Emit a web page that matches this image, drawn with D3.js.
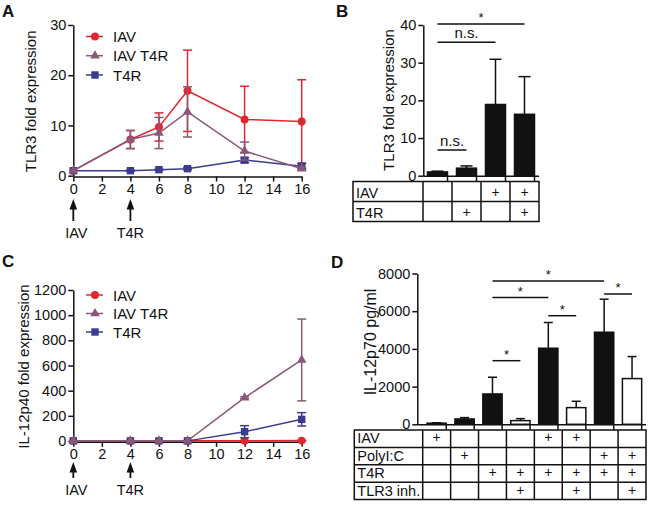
<!DOCTYPE html>
<html><head><meta charset="utf-8">
<script src="https://cdn.jsdelivr.net/npm/d3@7"></script>
<style>body{margin:0;background:#fff} text{font-family:"Liberation Sans",Arial,sans-serif;fill:#111}</style>
</head><body><svg id="c" width="650" height="508" xmlns="http://www.w3.org/2000/svg"></svg>
<script>
// ---------- data ----------
const hours = [0, 4, 6, 8, 12, 16];
const seriesNames = ["IAV", "IAV T4R", "T4R"];
const seriesColors = ["#e3262d", "#8a5878", "#3c3b8e"];
const lineXTicks = [0, 2, 4, 6, 8, 10, 12, 14, 16];

// Panel A: TLR3 fold expression (mean, SD)
const tlr3IAV = [1, 7.2, 9.7, 16.9, 11.2, 10.8];
const tlr3IAVsd = [0, 1.8, 2.8, 8.1, 6.6, 8.3];
const tlr3IAVT4R = [1, 7.2, 8.5, 12.7, 4.9, 1.4];
const tlr3IAVT4Rsd = [0, 1.8, 3.1, 5.0, 1.8, 0.3];
const tlr3T4R = [1, 1.0, 1.2, 1.4, 3.1, 1.9];
const tlr3T4Rsd = [0, 0.1, 0.1, 0.2, 0.5, 0.5];
const tlr3Ticks = [0, 10, 20, 30];

// Panel C: IL-12p40 fold expression (mean, SD)
const il12IAV = [1, 1, 1, 1, 2, 3];
const il12IAVsd = [0, 0, 0, 0, 1, 1];
const il12IAVT4R = [1, 1, 1, 1, 344, 644];
const il12IAVT4Rsd = [0, 0, 0, 0, 8, 325];
const il12T4R = [1, 1, 1, 1, 74, 172];
const il12T4Rsd = [0, 0, 0, 0, 48, 53];
const il12Ticks = [0, 200, 400, 600, 800, 1000, 1200];

// Panel B: TLR3 fold expression bars
const bValues = [1.0, 2.0, 18.9, 16.3];
const bErr = [0.2, 0.6, 12.0, 10.0];
const bRowLabels = ["IAV", "T4R"];
const bIAV = ["", "", "+", "+"];
const bT4R = ["", "+", "", "+"];
const bTicks = [0, 10, 20, 30, 40];

// Panel D: IL-12p70 pg/ml bars
const dValues = [60, 283, 1610, 195, 4036, 885, 4885, 2425];
const dErr = [20, 72, 886, 105, 1364, 336, 1752, 1168];
const dFilled = [true, true, true, false, true, false, true, false];
const dRowLabels = ["IAV", "PolyI:C", "T4R", "TLR3 inh."];
const dIAV = ["+", "", "", "", "+", "+", "", ""];
const dPolyIC = ["", "+", "", "", "", "", "+", "+"];
const dT4R = ["", "", "+", "+", "+", "+", "+", "+"];
const dTLR3 = ["", "", "", "+", "", "+", "", "+"];
const dTicks = [0, 2000, 4000, 6000, 8000];

// ---------- drawing ----------
const svg = d3.select("#c");
const SW = 1.5;
const fmt = d3.format("d");

function panelLetter(x, y, t) {
  svg.append("text").attr("x", x).attr("y", y).attr("font-size", 17).attr("font-weight", "bold").text(t);
}
function yTitle(cx, cy, t, fs) {
  svg.append("text").attr("transform", `translate(${cx},${cy}) rotate(-90)`)
    .attr("text-anchor", "middle").attr("dominant-baseline", "central")
    .attr("font-size", fs).text(t);
}
function styleAxis(g, fs) {
  g.selectAll("path.domain").attr("stroke", "#111").attr("stroke-width", SW);
  g.selectAll(".tick line").attr("stroke", "#111").attr("stroke-width", SW);
  g.selectAll(".tick text").attr("font-size", fs).attr("fill", "#111")
    .attr("font-family", '"Liberation Sans",Arial,sans-serif');
}

function linePanel(opt) {
  const x = d3.scaleLinear().domain([0, 16]).range([73.3, 301.7]);
  const y = d3.scaleLinear().domain(opt.yDomain).range(opt.yRange);
  const gy = svg.append("g").attr("transform", `translate(${x(0)},0)`)
    .call(d3.axisLeft(y).tickValues(opt.yTicks).tickFormat(fmt).tickSize(5).tickPadding(2).tickSizeOuter(0));
  styleAxis(gy, 14.5);
  const gx = svg.append("g").attr("transform", `translate(0,${y(0) + 0.8})`)
    .call(d3.axisBottom(x).tickValues(lineXTicks).tickFormat(fmt).tickSize(5).tickPadding(2).tickSizeOuter(0));
  styleAxis(gx, 14.5);
  yTitle(opt.titleX, (opt.yRange[0] + opt.yRange[1]) / 2 + 1, opt.title, 15);

  const symbols = [d3.symbolCircle, d3.symbolTriangle, d3.symbolSquare];
  const sizes = [50, 40, 55];
  const order = [0, 2, 1];
  order.forEach(si => {
    const vals = opt.means[si], sds = opt.sds[si], col = seriesColors[si];
    const g = svg.append("g");
    const pts = hours.map((h, i) => ({ h, v: vals[i], s: sds[i] }));
    g.append("path").datum(pts)
      .attr("d", d3.line().x(d => x(d.h)).y(d => y(d.v)))
      .attr("fill", "none").attr("stroke", col).attr("stroke-width", SW);
    pts.forEach(p => {
      if (p.s > 0) {
        const y1 = y(p.v + p.s), y0 = y(Math.max(opt.yDomain[0], p.v - p.s));
        g.append("line").attr("x1", x(p.h)).attr("x2", x(p.h)).attr("y1", y1).attr("y2", y0)
          .attr("stroke", col).attr("stroke-width", SW);
        [y1, y0].forEach(yy => g.append("line").attr("x1", x(p.h) - 4.5).attr("x2", x(p.h) + 4.5)
          .attr("y1", yy).attr("y2", yy).attr("stroke", col).attr("stroke-width", SW));
      }
      g.append("path").attr("d", d3.symbol(symbols[si], sizes[si])())
        .attr("transform", `translate(${x(p.h)},${y(p.v)})`).attr("fill", col);
    });
  });
  // legend
  seriesNames.forEach((n, i) => {
    const ly = opt.legendY[i];
    svg.append("line").attr("x1", 86).attr("x2", 103).attr("y1", ly).attr("y2", ly)
      .attr("stroke", seriesColors[i]).attr("stroke-width", SW);
    svg.append("path").attr("d", d3.symbol(symbols[i], sizes[i])())
      .attr("transform", `translate(95,${ly})`).attr("fill", seriesColors[i]);
    svg.append("text").attr("x", 113).attr("y", ly + 5.5).attr("font-size", 15).text(n);
  });
  // arrows
  [[0, "IAV"], [4, "T4R"]].forEach(([h, t]) => {
    const ax = x(h);
    svg.append("line").attr("x1", ax).attr("x2", ax).attr("y1", opt.arrowTop + 8).attr("y2", opt.arrowBottom)
      .attr("stroke", "#111").attr("stroke-width", 1.8);
    svg.append("path").attr("d", `M${ax},${opt.arrowTop} L${ax - 3.8},${opt.arrowTop + 10.5} L${ax + 3.8},${opt.arrowTop + 10.5} Z`)
      .attr("fill", "#111");
    svg.append("text").attr("x", ax + (h === 0 ? 3 : 0)).attr("y", opt.labelY).attr("text-anchor", "middle")
      .attr("font-size", 14.5).text(t);
  });
}

linePanel({
  yDomain: [0, 30], yRange: [175.7, 25], yTicks: tlr3Ticks, title: "TLR3 fold expression", titleX: 30,
  means: [tlr3IAV, tlr3IAVT4R, tlr3T4R], sds: [tlr3IAVsd, tlr3IAVT4Rsd, tlr3T4Rsd],
  legendY: [36.5, 55.7, 75], arrowTop: 199, arrowBottom: 221, labelY: 238
});
linePanel({
  yDomain: [0, 1200], yRange: [441, 290], yTicks: il12Ticks, title: "IL-12p40 fold expression", titleX: 23,
  means: [il12IAV, il12IAVT4R, il12T4R], sds: [il12IAVsd, il12IAVT4Rsd, il12T4Rsd],
  legendY: [295, 313.5, 332], arrowTop: 462, arrowBottom: 478, labelY: 495
});

function barPanel(opt) {
  const n = opt.values.length;
  const x = d3.scaleBand().domain(d3.range(n)).range(opt.xRange).paddingInner(0.31).paddingOuter(0.155);
  const y = d3.scaleLinear().domain(opt.yDomain).range(opt.yRange);
  const step = x.step();
  // bars
  opt.values.forEach((v, i) => {
    const cx = x(i) + x.bandwidth() / 2;
    const top = y(v + opt.err[i]);
    svg.append("line").attr("x1", cx).attr("x2", cx).attr("y1", top).attr("y2", y(v))
      .attr("stroke", "#111").attr("stroke-width", SW);
    svg.append("line").attr("x1", cx - opt.cap).attr("x2", cx + opt.cap).attr("y1", top).attr("y2", top)
      .attr("stroke", "#111").attr("stroke-width", SW);
    svg.append("rect").attr("x", x(i)).attr("width", x.bandwidth())
      .attr("y", y(v)).attr("height", Math.max(0.5, y(0) - y(v)))
      .attr("fill", opt.filled[i] ? "#111" : "#fff").attr("stroke", "#111").attr("stroke-width", SW);
  });
  const gy = svg.append("g").attr("transform", `translate(${opt.yAxisX},0)`)
    .call(d3.axisLeft(y).tickValues(opt.yTicks).tickFormat(fmt).tickSize(5).tickPadding(2).tickSizeOuter(0));
  styleAxis(gy, 14.5);
  const gx = svg.append("g").attr("transform", `translate(0,${y(0) + 0.5})`)
    .call(d3.axisBottom(x).tickSize(5).tickSizeOuter(0).tickFormat(""));
  styleAxis(gx, 14);
  gx.select("path.domain").attr("d", `M${opt.yAxisX},0H${opt.xRange[1]}`);
  gx.selectAll(".tick line").attr("transform", `translate(${x.bandwidth() / 2},0)`);
  yTitle(opt.titleX, opt.titleY, opt.title, opt.titleSize);

  // condition table
  const tb = svg.append("g");
  const rows = opt.rows;
  const rh = (opt.tableBottom - opt.tableTop) / rows.length;
  const colEdges = d3.range(n + 1).map(i => opt.xRange[0] + i * step);
  tb.append("rect").attr("x", opt.tableLeft).attr("y", opt.tableTop)
    .attr("width", opt.xRange[1] - opt.tableLeft).attr("height", opt.tableBottom - opt.tableTop)
    .attr("fill", "none").attr("stroke", "#111").attr("stroke-width", SW);
  for (let r = 1; r < rows.length; r++) {
    tb.append("line").attr("x1", opt.tableLeft).attr("x2", opt.xRange[1])
      .attr("y1", opt.tableTop + r * rh).attr("y2", opt.tableTop + r * rh).attr("stroke", "#111").attr("stroke-width", SW);
  }
  colEdges.slice(0, n).forEach(cx => tb.append("line").attr("x1", cx).attr("x2", cx)
    .attr("y1", opt.tableTop).attr("y2", opt.tableBottom).attr("stroke", "#111").attr("stroke-width", SW));
  rows.forEach((row, r) => {
    const by = opt.tableTop + (r + 1) * rh - 4;
    tb.append("text").attr("x", opt.tableLeft + 3).attr("y", by).attr("font-size", 14.5).text(opt.rowLabels[r]);
    row.forEach((s, i) => {
      if (s) tb.append("text").attr("x", x(i) + x.bandwidth() / 2).attr("y", by - 1).attr("text-anchor", "middle")
        .attr("font-size", 14).text(s);
    });
  });
  // significance brackets
  opt.sig.forEach(s => {
    const x1 = x(s.a) + x.bandwidth() / 2, x2 = x(s.b) + x.bandwidth() / 2;
    svg.append("line").attr("x1", x1).attr("x2", x2).attr("y1", s.y).attr("y2", s.y)
      .attr("stroke", "#111").attr("stroke-width", SW);
    const isStar = s.t === "*";
    svg.append("text").attr("x", (x1 + x2) / 2).attr("y", isStar ? s.y - 3 : s.y - 4)
      .attr("text-anchor", "middle").attr("font-size", isStar ? 13 : 15)
      .attr("dy", isStar ? "0.1em" : 0).text(s.t);
  });
}

barPanel({
  values: bValues, err: bErr, filled: [true, true, true, true], cap: 6,
  xRange: [423, 539], yDomain: [0, 40], yRange: [175.7, 25], yTicks: bTicks, yAxisX: 423.3,
  title: "TLR3 fold expression", titleX: 388, titleY: 100, titleSize: 15,
  tableLeft: 353, tableTop: 181.5, tableBottom: 221.5, rows: [bIAV, bT4R], rowLabels: bRowLabels,
  sig: [{ a: 0, b: 3, y: 24, t: "*" }, { a: 0, b: 2, y: 42.3, t: "n.s." }, { a: 0, b: 1, y: 150, t: "n.s." }]
});
barPanel({
  values: dValues, err: dErr, filled: dFilled, cap: 4.5,
  xRange: [422.7, 646], yDomain: [0, 8000], yRange: [424.3, 273.5], yTicks: dTicks, yAxisX: 417.3,
  title: "IL-12p70 pg/ml", titleX: 370, titleY: 342, titleSize: 16,
  tableLeft: 354.3, tableTop: 430, tableBottom: 499.5, rows: [dIAV, dPolyIC, dT4R, dTLR3], rowLabels: dRowLabels,
  sig: [{ a: 2, b: 6, y: 281, t: "*" }, { a: 2, b: 4, y: 297.5, t: "*" }, { a: 6, b: 7, y: 294, t: "*" },
        { a: 4, b: 5, y: 315.7, t: "*" }, { a: 2, b: 3, y: 360.7, t: "*" }]
});

panelLetter(2, 17, "A");
panelLetter(336, 17, "B");
panelLetter(2, 267, "C");
panelLetter(331, 268, "D");
</script></body></html>
